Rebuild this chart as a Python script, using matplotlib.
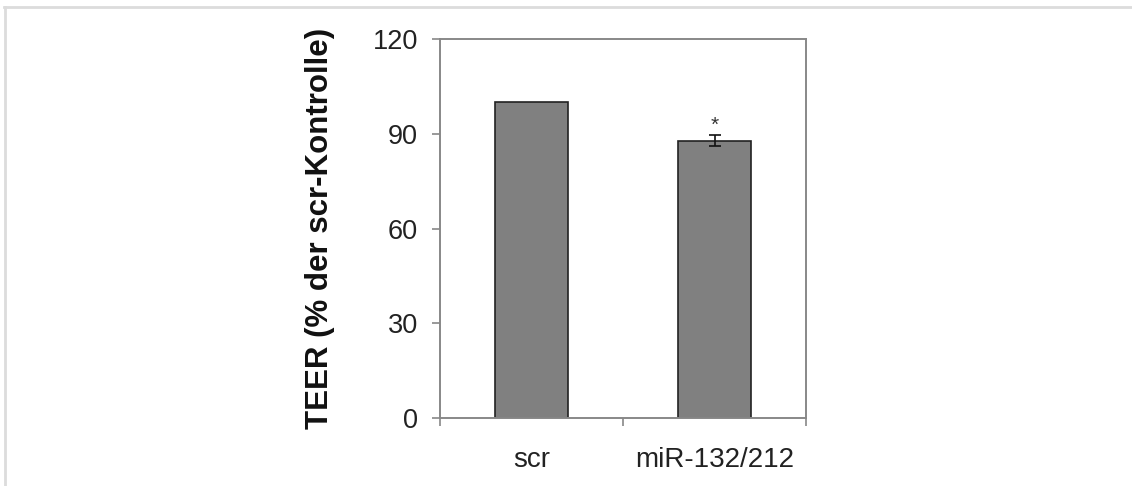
import matplotlib
matplotlib.use("Agg")
import matplotlib.pyplot as plt
from matplotlib.lines import Line2D
from matplotlib.transforms import blended_transform_factory

categories = ["scr", "miR-132/212"]
teer_values = [100.0, 87.8]
teer_errors = [0.0, 1.8]
significance = ["", "*"]
y_ticks = [0, 30, 60, 90, 120]

plt.rcParams["font.family"] = ["Liberation Sans", "DejaVu Sans"]

fig = plt.figure(figsize=(11.32, 4.86), dpi=100)
W, H = 1132, 486

# thin frame along top and left edge of the figure
fig.add_artist(Line2D([4 / W, 1.0], [1 - 7 / H, 1 - 7 / H], color="#dcdcdc", lw=2.0))
fig.add_artist(Line2D([5 / W, 5 / W], [0.0, 1 - 7 / H], color="#dcdcdc", lw=2.0))

ax = fig.add_axes([440 / W, 1 - 418 / H, (806 - 440) / W, (418 - 39) / H])

x = list(range(len(categories)))
ax.bar(x, teer_values, width=0.4, color="#808080", edgecolor="#222222", linewidth=1.2, zorder=2)
for xi, v, e, s in zip(x, teer_values, teer_errors, significance):
    if e > 0:
        ax.errorbar(xi, v, yerr=e, fmt="none", ecolor="#111111", elinewidth=1.2,
                    capsize=4.5, capthick=1.2, zorder=3)
    if s:
        ax.text(xi, v + e + 3.0, s, ha="center", va="center", fontsize=15, color="#333333")

ax.set_xlim(-0.5, len(categories) - 0.5)
ax.set_ylim(0, 120)
ax.set_yticks(y_ticks)
ax.set_yticklabels([str(t) for t in y_ticks], fontsize=19.5, color="#222222")
ax.set_xticks([-0.5, 0.5, 1.5])
ax.set_xticklabels([])
ax.tick_params(axis="y", direction="out", length=6, width=1.2, color="#888888", pad=10)
ax.tick_params(axis="x", direction="out", length=6, width=1.2, color="#888888")

# category names sit well below the boundary ticks
label_tf = blended_transform_factory(ax.transData, fig.transFigure)
for xi, c in zip(x, categories):
    ax.text(xi, 1 - 460 / H, c, transform=label_tf,
            ha="center", va="center", fontsize=20, color="#222222")

for sp in ax.spines.values():
    sp.set_color("#888888")
    sp.set_linewidth(1.4)

fig.text(320 / W, 1 - 228 / H, "TEER (% der scr-Kontrolle)", rotation=90,
         ha="center", va="center", fontsize=22.5, fontweight="bold", color="#111111")

fig.savefig("out.png", dpi=100)
